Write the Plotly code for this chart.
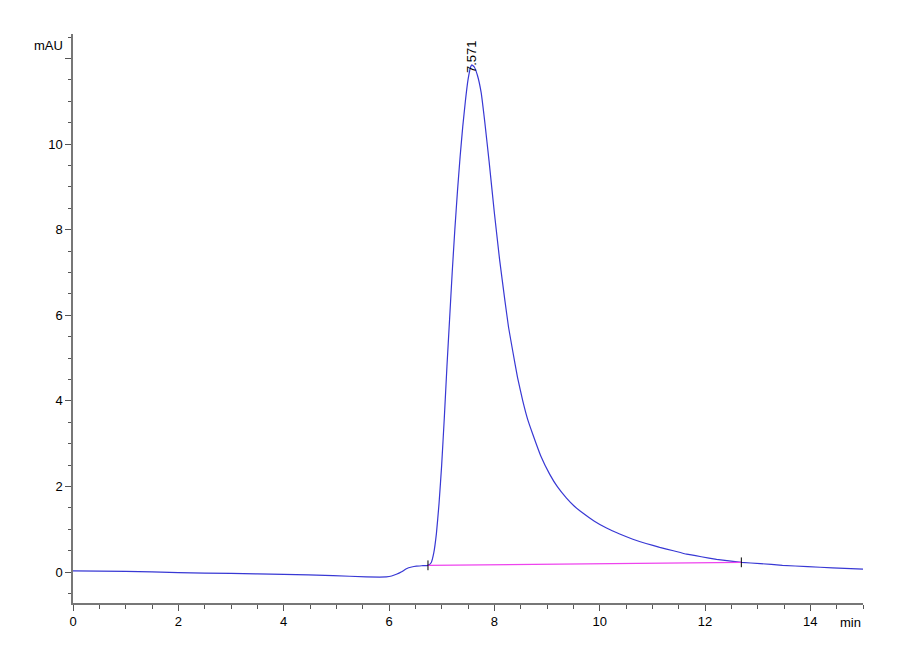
import plotly.graph_objects as go

# Chromatogramm-Daten
time_min = [0.0, 1.0, 2.0, 3.0, 4.0, 4.94, 5.57, 5.95, 6.05, 6.14, 6.24, 6.33, 6.43, 6.52, 6.62, 6.74,
            6.80, 6.85, 6.90, 6.95, 7.00, 7.05, 7.10, 7.15, 7.20, 7.25, 7.30, 7.35, 7.40, 7.45,
            7.50, 7.55, 7.571, 7.62, 7.68, 7.75, 7.82, 7.90, 8.00, 8.10, 8.20, 8.27, 8.35, 8.44, 8.54,
            8.63, 8.73, 8.88, 9.05, 9.20, 9.37, 9.52, 9.68, 9.90, 10.13, 10.38, 10.63, 10.88, 11.14,
            11.40, 11.65, 11.93, 12.22, 12.69, 13.05, 13.47, 13.95, 14.42, 15.0]
signal_mau = [0.03, 0.02, -0.01, -0.03, -0.05, -0.08, -0.11, -0.11, -0.09, -0.05, 0.01, 0.08, 0.12, 0.14, 0.15, 0.16,
              0.22, 0.45, 0.9, 1.6, 2.5, 3.6, 4.8, 5.9, 7.0, 8.0, 8.9, 9.7, 10.4, 11.0,
              11.5, 11.8, 11.85, 11.8, 11.6, 11.2, 10.5, 9.6, 8.4, 7.3, 6.35, 5.72, 5.16, 4.55, 4.0,
              3.58, 3.22, 2.72, 2.29, 1.99, 1.73, 1.54, 1.38, 1.19, 1.03, 0.89, 0.77, 0.67, 0.58,
              0.50, 0.42, 0.36, 0.30, 0.23, 0.20, 0.16, 0.13, 0.10, 0.07]

# Integrations-Basislinie
baseline_t = [6.74, 12.69]
baseline_v = [0.16, 0.23]

peak_time = 7.571
peak_height = 11.85
peak_label = "7.571"

y_ticks = [0, 2, 4, 6, 8, 10, 12]
y_ticktext = ["0", "2", "4", "6", "8", "10", ""]
x_ticks = [0, 2, 4, 6, 8, 10, 12, 14]

fig = go.Figure()

fig.add_trace(go.Scatter(
    x=time_min, y=signal_mau, mode="lines",
    line=dict(color="#3838d4", width=1.2, shape="spline", smoothing=0.3),
    hoverinfo="skip",
))

fig.add_trace(go.Scatter(
    x=baseline_t, y=baseline_v, mode="lines+markers",
    line=dict(color="#ee44ee", width=1.2),
    marker=dict(symbol="line-ns-open", size=7, color="black", line=dict(width=1, color="black")),
    hoverinfo="skip",
))

fig.add_annotation(
    x=peak_time, y=peak_height, text=peak_label, textangle=-90,
    showarrow=False, xanchor="center", yanchor="bottom", yshift=-10,
    font=dict(size=13, color="black", family="Liberation Sans"),
)

fig.add_annotation(
    xref="paper", yref="paper", x=0, y=1, text="mAU", showarrow=False,
    xanchor="right", yanchor="top", xshift=-8, yshift=-2,
    font=dict(size=13, color="black", family="Liberation Sans"),
)
fig.add_annotation(
    xref="paper", yref="paper", x=1, y=0, text="min", showarrow=False,
    xanchor="right", yanchor="top", yshift=-10,
    font=dict(size=13, color="black", family="Liberation Sans"),
)

fig.update_xaxes(
    range=[0, 15], tickvals=x_ticks, ticks="outside", ticklen=6, tickcolor="#555",
    showline=True, linecolor="#777", linewidth=1.5, showgrid=False, zeroline=False,
    minor=dict(dtick=0.5, ticks="outside", ticklen=4, tickcolor="#555", showgrid=False),
    tickfont=dict(size=13, color="black", family="Liberation Sans"), automargin=False,
)
fig.update_yaxes(
    range=[-0.72, 12.57], tickvals=y_ticks, ticktext=y_ticktext, ticks="outside", ticklen=6,
    tickcolor="#555", showline=True, linecolor="#777", linewidth=1.5, showgrid=False, zeroline=False,
    minor=dict(dtick=0.5, ticks="outside", ticklen=3, tickcolor="#555", showgrid=False),
    tickfont=dict(size=13, color="black", family="Liberation Sans"), automargin=False,
)

fig.update_layout(
    width=900, height=660, showlegend=False,
    margin=dict(l=65, r=45, t=26, b=65),
    plot_bgcolor="white", paper_bgcolor="white",
)

fig.write_html("out.html")
